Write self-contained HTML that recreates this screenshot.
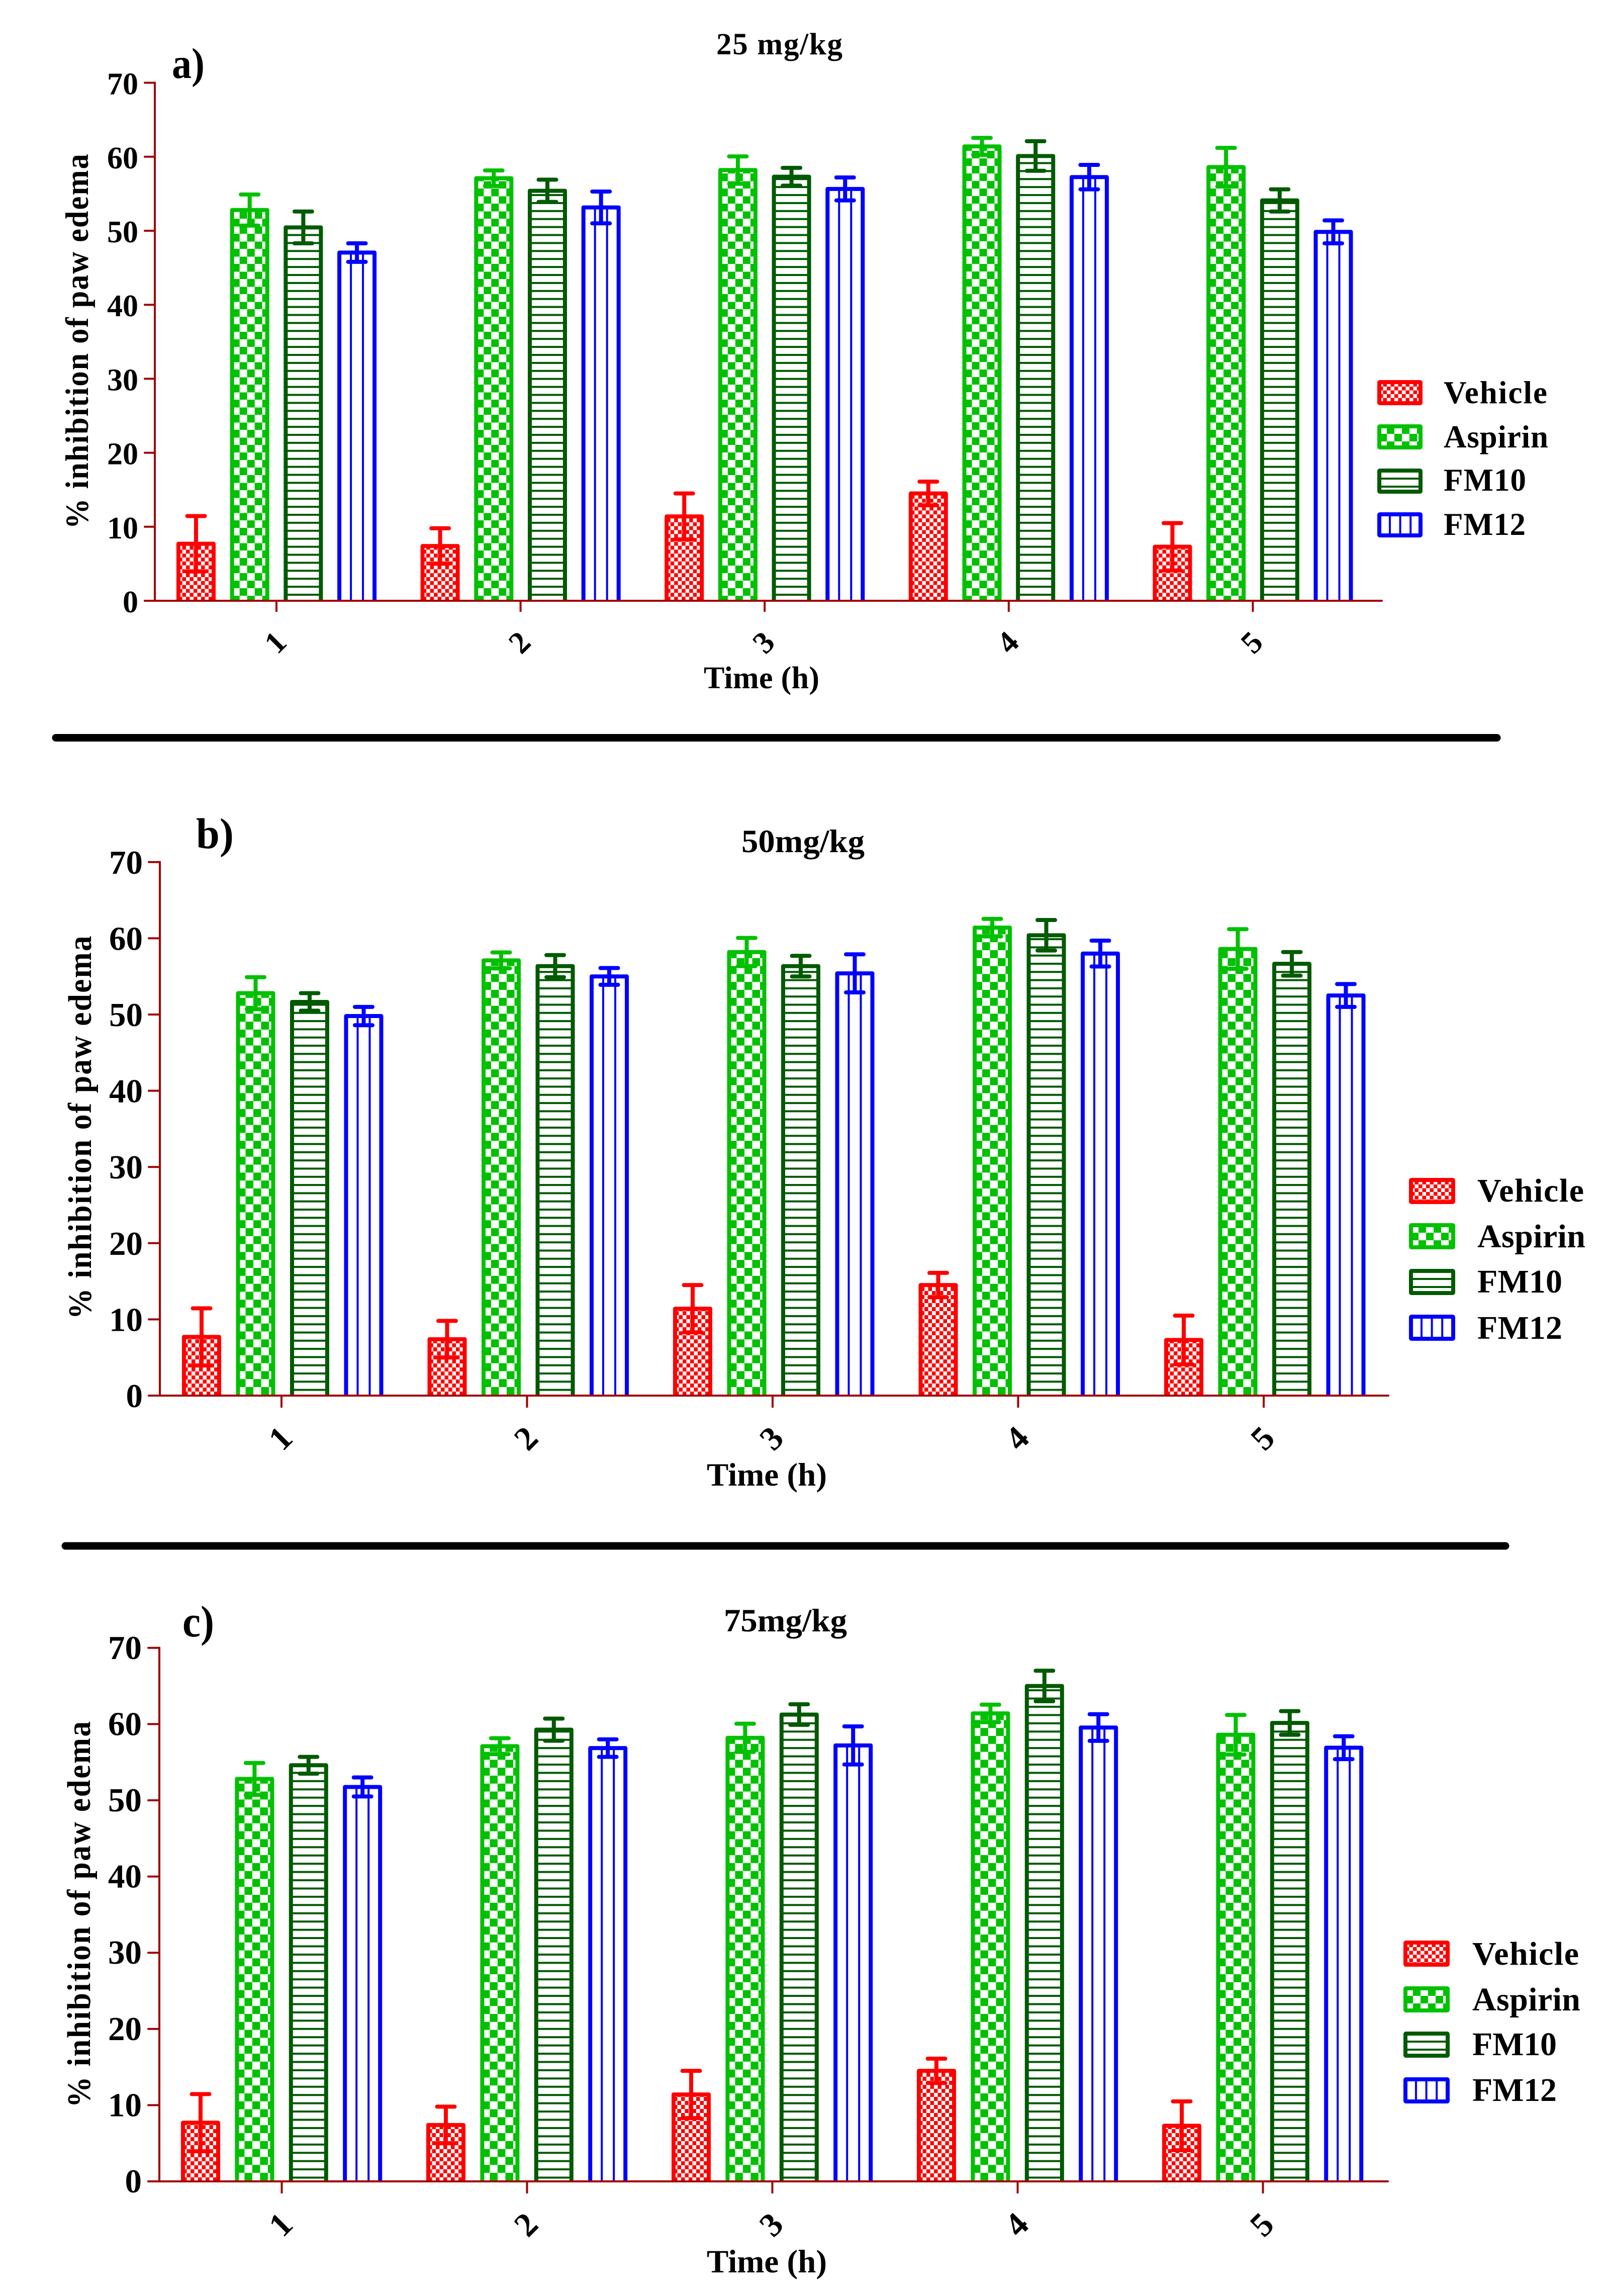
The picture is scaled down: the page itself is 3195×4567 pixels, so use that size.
<!DOCTYPE html>
<html lang="en">
<head>
<meta charset="utf-8">
<title>Percent inhibition of paw edema</title>
<style>
html,body{margin:0;padding:0;background:#fff;width:3195px;height:4567px;overflow:hidden}
svg{display:block}
text{font-family:"Liberation Serif",serif;font-weight:bold;fill:#000}
</style>
</head>
<body>
<svg id="figure" xmlns="http://www.w3.org/2000/svg" width="3195" height="4567" viewBox="0 0 3195 4567">
  <defs id="patterns"></defs>
  <rect x="0" y="0" width="3195" height="4567" fill="#fff"/>

  <text x="342" y="155" font-size="86" textLength="65" lengthAdjust="spacingAndGlyphs">a)</text>
  <text x="1425" y="108" font-size="61" textLength="251" lengthAdjust="spacing">25 mg/kg</text>
  <text transform="translate(175,1052) rotate(-90) scale(0.93,1)" font-size="65" textLength="802" lengthAdjust="spacing">% inhibition of paw edema</text>
  <text x="1400" y="1369" font-size="62" textLength="230" lengthAdjust="spacing">Time (h)</text>

  <line x1="111" y1="1467.5" x2="2978" y2="1467.5" stroke="#000" stroke-width="15" stroke-linecap="round"/>

  <text x="390" y="1687" font-size="86" textLength="75" lengthAdjust="spacingAndGlyphs">b)</text>
  <text x="1475" y="1695" font-size="65" textLength="245" lengthAdjust="spacingAndGlyphs">50mg/kg</text>
  <text transform="translate(181,2624) rotate(-90) scale(0.93,1)" font-size="66" textLength="820" lengthAdjust="spacing">% inhibition of paw edema</text>
  <text x="1406" y="2955" font-size="65" textLength="239" lengthAdjust="spacing">Time (h)</text>

  <line x1="130" y1="3075" x2="2995" y2="3075" stroke="#000" stroke-width="15" stroke-linecap="round"/>

  <text x="363" y="3255" font-size="88" textLength="63" lengthAdjust="spacingAndGlyphs">c)</text>
  <text x="1440" y="3245" font-size="65" textLength="245" lengthAdjust="spacingAndGlyphs">75mg/kg</text>
  <text transform="translate(179,4192) rotate(-90) scale(0.93,1)" font-size="66" textLength="826" lengthAdjust="spacing">% inhibition of paw edema</text>
  <text x="1406" y="4520" font-size="65" textLength="239" lengthAdjust="spacing">Time (h)</text>
</svg>

<script>
// ---- chart data ----
const timeCategories = ['1', '2', '3', '4', '5'];
const yTickLabels = [0, 10, 20, 30, 40, 50, 60, 70];
const seriesNames = ['Vehicle', 'Aspirin', 'FM10', 'FM12'];

const vehicleMeans = [7.7, 7.4, 11.4, 14.5, 7.3];
const vehicleErrors = [3.75, 2.4, 3.1, 1.6, 3.2];
const aspirinMeans = [52.8, 57.1, 58.2, 61.4, 58.6];
const aspirinErrors = [2.1, 1.05, 1.85, 1.15, 2.6];

const fm10Means25 = [50.45, 55.4, 57.3, 60.1, 54.1];
const fm10Errors25 = [2.15, 1.5, 1.2, 2.0, 1.5];
const fm12Means25 = [47.05, 53.15, 55.65, 57.25, 49.85];
const fm12Errors25 = [1.25, 2.15, 1.55, 1.65, 1.55];

const fm10Means50 = [51.65, 56.35, 56.35, 60.4, 56.65];
const fm10Errors50 = [1.15, 1.45, 1.35, 2.0, 1.55];
const fm12Means50 = [49.8, 55.0, 55.4, 58.0, 52.5];
const fm12Errors50 = [1.2, 1.1, 2.5, 1.7, 1.5];

const fm10Means75 = [54.6, 59.27, 61.25, 65.0, 60.15];
const fm10Errors75 = [1.1, 1.45, 1.35, 2.0, 1.55];
const fm12Means75 = [51.75, 56.85, 57.2, 59.55, 56.9];
const fm12Errors75 = [1.25, 1.15, 2.5, 1.75, 1.5];

// ---- layout and style ----
const NS = 'http://www.w3.org/2000/svg';
const svg = document.getElementById('figure');
const defs = document.getElementById('patterns');
const AXIS_COLOR = '#a00000';
const seriesColors = ['#ff0000', '#00c000', '#005a00', '#0000ff'];
const seriesKeys = ['vehicle', 'aspirin', 'fm10', 'fm12'];

const layouts = [
  { key: 'a', axisX: 308, y0: 1195, unit: 14.72, axisStart: 286, axisEnd: 2749, tickStartX: 550, groupStep: 485.6,
    barLeft: 351, barStep: 106.7, tickLen: 22, font: 62, labelRight: 275, labelDrop: 23, xLabelDrop: 84,
    aspirinCellX: 15, aspirinCellY: 15, aspirinOff: 25, vehicleCellY: 7.8, linePitch: 15.9, lineOff: 12,
    legendX: 2740, legendY: [756, 844, 932, 1019], legendH: 50, legendW: 90, legendTextX: 2872,
    legendBase: [802, 890, 976, 1064], legendWidths: [206, 208, 164, 163], legendFont: 63,
    fm10: fm10Means25, fm10Err: fm10Errors25, fm12: fm12Means25, fm12Err: fm12Errors25 },
  { key: 'b', axisX: 318, y0: 2776, unit: 15.16, axisStart: 294, axisEnd: 2762, tickStartX: 560, groupStep: 488.5,
    barLeft: 362, barStep: 107.5, tickLen: 24, font: 67, labelRight: 284, labelDrop: 23, xLabelDrop: 86,
    aspirinCellX: 15.5, aspirinCellY: 15.8, aspirinOff: 17, vehicleCellY: 8, linePitch: 16.3, lineOff: 11.4,
    legendX: 2803, legendY: [2343, 2433, 2524, 2615], legendH: 52, legendW: 92, legendTextX: 2939,
    legendBase: [2390, 2481, 2571, 2663], legendWidths: [212, 215, 169, 169], legendFont: 66,
    fm10: fm10Means50, fm10Err: fm10Errors50, fm12: fm12Means50, fm12Err: fm12Errors50 },
  { key: 'c', axisX: 317, y0: 4339, unit: 15.16, axisStart: 293, axisEnd: 2761, tickStartX: 560.5, groupStep: 488,
    barLeft: 360, barStep: 107.4, tickLen: 24, font: 67, labelRight: 282, labelDrop: 22, xLabelDrop: 87,
    aspirinCellX: 15.5, aspirinCellY: 15.8, aspirinOff: 17, vehicleCellY: 8, linePitch: 16.43, lineOff: 7.5,
    legendX: 2792, legendY: [3860, 3951, 4041, 4132], legendH: 52, legendW: 92, legendTextX: 2929,
    legendBase: [3908, 3999, 4088, 4179], legendWidths: [212, 215, 168, 168], legendFont: 66,
    fm10: fm10Means75, fm10Err: fm10Errors75, fm12: fm12Means75, fm12Err: fm12Errors75 }
];

const BAR_W = 78;
const STROKE = 8;
let patternCount = 0;

function make(tag, attrs, parent) {
  const node = document.createElementNS(NS, tag);
  for (const k in attrs) node.setAttribute(k, attrs[k]);
  if (parent) parent.appendChild(node);
  return node;
}

function addChecker(x, y, cx, cy, color) {
  const id = 'pat' + (patternCount++);
  const p = make('pattern', { id: id, patternUnits: 'userSpaceOnUse', x: x, y: y, width: 2 * cx, height: 2 * cy }, defs);
  make('rect', { x: 0, y: 0, width: cx, height: cy, fill: color }, p);
  make('rect', { x: cx, y: cy, width: cx, height: cy, fill: color }, p);
  return id;
}
function addHLines(y, pitch, color) {
  const id = 'pat' + (patternCount++);
  const p = make('pattern', { id: id, patternUnits: 'userSpaceOnUse', x: 0, y: y, width: 20, height: pitch }, defs);
  make('rect', { x: 0, y: 0, width: 20, height: 4, fill: color }, p);
  return id;
}
function addVLines(x, pitch, color) {
  const id = 'pat' + (patternCount++);
  const p = make('pattern', { id: id, patternUnits: 'userSpaceOnUse', x: x, y: 0, width: pitch, height: 20 }, defs);
  make('rect', { x: 0, y: 0, width: 4, height: 20, fill: color }, p);
  return id;
}

function drawPanel(L) {
  const yScale = function (v) { return L.y0 - v * L.unit; };
  const groupX = function (g, s) { return L.barLeft + g * L.groupStep + s * L.barStep; };
  const tickX = function (g) { return L.tickStartX + g * L.groupStep; };

  const panel = make('g', {}, svg);
  
  

  const means = [vehicleMeans, aspirinMeans, L.fm10, L.fm12];
  const errors = [vehicleErrors, aspirinErrors, L.fm10Err, L.fm12Err];

  // bars: the outline's stroke is centred on the mean value
  timeCategories.forEach(function (cat, g) {
    seriesNames.forEach(function (name, s) {
      const left = groupX(g, s);
      const right = left + BAR_W;
      const top = yScale(means[s][g]);
      const color = seriesColors[s];
      let pid;
      if (s === 0) pid = addChecker(left + 19, L.y0 - 8, 7.5, L.vehicleCellY, color);
      if (s === 1) pid = addChecker(left + 19, L.y0 - L.aspirinOff, L.aspirinCellX, L.aspirinCellY, color);
      if (s === 2) pid = addHLines(L.y0 - L.lineOff - 2, L.linePitch, color);
      if (s === 3) pid = addVLines(left + BAR_W / 2 - 14, 24, color);

      const fill = make('rect', { x: left + STROKE / 2, y: top, width: BAR_W - STROKE, height: Math.max(0, L.y0 - top), fill: 'url(#' + pid + ')' }, panel);
      
      

      const outline = make('path', {
        d: 'M' + (left + STROKE / 2) + ' ' + L.y0 + 'V' + top + 'H' + (right - STROKE / 2) + 'V' + L.y0,
        fill: 'none', stroke: color, 'stroke-width': STROKE, 'stroke-linejoin': 'round'
      }, panel);
      
      
    });
  });

  // error bars
  timeCategories.forEach(function (cat, g) {
    seriesNames.forEach(function (name, s) {
      const cx = groupX(g, s) + BAR_W / 2;
      const hi = yScale(means[s][g] + errors[s][g]);
      const lo = yScale(means[s][g] - errors[s][g]);
      const color = seriesColors[s];
      const group = make('g', { stroke: color, 'stroke-width': STROKE, 'stroke-linecap': 'round', fill: 'none' }, panel);
      
      
      make('line', { x1: cx, x2: cx, y1: hi, y2: lo, 'stroke-linecap': 'butt' }, group);
      make('line', { x1: cx - 17.5, x2: cx + 17.5, y1: hi, y2: hi }, group);
      make('line', { x1: cx - 17.5, x2: cx + 17.5, y1: lo, y2: lo }, group);
    });
  });

  // y axis
  const yAxis = make('line', { x1: L.axisX, x2: L.axisX, y1: yScale(70) - 2, y2: L.y0, stroke: AXIS_COLOR, 'stroke-width': 4 }, panel);
  
  
  yTickLabels.forEach(function (v) {
    const y = yScale(v);
    const tick = make('line', { x1: L.axisX - L.tickLen + 2, x2: L.axisX, y1: y, y2: y, stroke: AXIS_COLOR, 'stroke-width': 4, 'stroke-linecap': 'round' }, panel);
    
    
    const label = make('text', { x: L.labelRight, y: y + L.labelDrop, 'font-size': L.font, 'text-anchor': 'end' }, panel);
    
    
    label.textContent = String(v);
  });

  // x axis
  const xAxis = make('line', { x1: L.axisStart + 2, x2: L.axisEnd, y1: L.y0, y2: L.y0, stroke: AXIS_COLOR, 'stroke-width': 4, 'stroke-linecap': 'round' }, panel);
  
  
  timeCategories.forEach(function (cat, g) {
    const x = tickX(g);
    const tick = make('line', { x1: x, x2: x, y1: L.y0, y2: L.y0 + L.tickLen, stroke: AXIS_COLOR, 'stroke-width': 4 }, panel);
    
    
    const label = make('text', { transform: 'translate(' + (x - 2) + ',' + (L.y0 + L.xLabelDrop - 1) + ') rotate(-45)', y: L.font * 0.33, 'font-size': L.font, 'text-anchor': 'middle' }, panel);
    
    
    label.textContent = cat;
  });

  // legend
  const legend = make('g', {}, panel);
  
  
  seriesNames.forEach(function (name, s) {
    const sx = L.legendX;
    const sy = L.legendY[s];
    const color = seriesColors[s];
    let pid;
    if (s === 0) pid = addChecker(sx + 19, sy + 13, 7.5, 7.5, color);
    if (s === 1) pid = addChecker(sx + 19, sy + 4, 15, 15, color);
    if (s === 2) pid = addHLines(sy + 18, 16, color);
    if (s === 3) pid = addVLines(sx + 23, 20.6, color);
    const entry = make('g', {}, legend);
    
    
    const swatch = make('rect', { x: sx + 4, y: sy + 4, width: L.legendW - 8, height: L.legendH - 8, rx: 1, fill: 'url(#' + pid + ')', stroke: color, 'stroke-width': 8, 'stroke-linejoin': 'round' }, entry);
    
    
    const text = make('text', { x: L.legendTextX, y: L.legendBase[s], 'font-size': L.legendFont, textLength: L.legendWidths[s], lengthAdjust: 'spacing' }, entry);
    
    
    text.textContent = name;
  });
}

layouts.forEach(drawPanel);
</script>
</body>
</html>
